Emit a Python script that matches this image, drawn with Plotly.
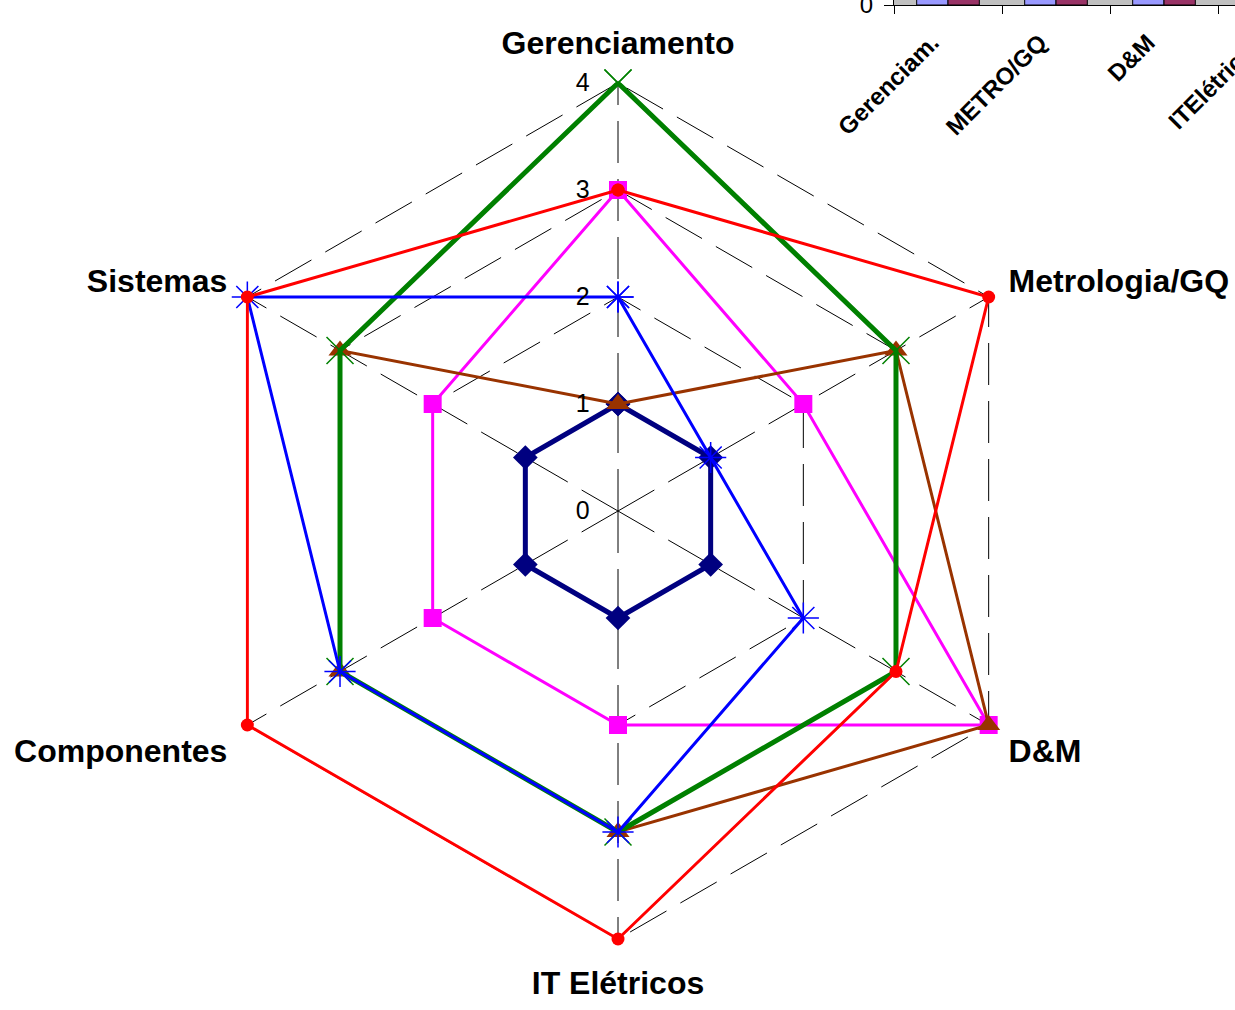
import plotly.graph_objects as go

categories = ["Gerenciamento", "Metrologia/GQ", "D&M", "IT Elétricos", "Componentes", "Sistemas"]

navy_vals = [1, 1, 1, 1, 1, 1]
magenta_vals = [3, 2, 4, 2, 2, 2]
brown_vals = [1, 3, 4, 3, 3, 3]
green_vals = [4, 3, 3, 3, 3, 3]
blue_vals = [2, 1, 2, 3, 3, 4]
red_vals = [3, 4, 3, 4, 4, 4]

radial_ticks = [0, 1, 2, 3, 4]

# partially visible bar chart (top right, clipped by the page edge)
bar_categories = ["Gerenciam.", "METRO/GQ", "D&M", "ITElétricos"]
bar_series_a = [3, 2, 4, 3]
bar_series_b = [4, 3, 3, 4]

series = [
    ("navy", navy_vals, "#000080", 5, "diamond", 19, None),
    ("magenta", magenta_vals, "#FF00FF", 3, "square", 18, None),
    ("brown", brown_vals, "#993300", 3, "triangle-up", 20, None),
    ("green", green_vals, "#008000", 5, "x-thin", 27, "#008000"),
    ("blue", blue_vals, "#0000FF", 3, "asterisk", 26, "#0000FF"),
    ("red", red_vals, "#FF0000", 3, "circle", 13, None),
]

fig = go.Figure()
for name, vals, color, lw, sym, size, mline in series:
    marker = dict(symbol=sym, size=size, color=color)
    if mline:
        marker["line"] = dict(color=mline, width=1.5)
    else:
        marker["line"] = dict(width=0)
    fig.add_trace(go.Scatterpolar(
        r=vals + vals[:1],
        theta=categories + categories[:1],
        mode="lines+markers",
        line=dict(color=color, width=lw),
        marker=marker,
        name=name,
        showlegend=False,
        cliponaxis=False,
    ))

fig.add_trace(go.Bar(x=bar_categories, y=bar_series_a, marker=dict(color="#9999FF", line=dict(color="black", width=1)),
                     xaxis="x", yaxis="y", showlegend=False))
fig.add_trace(go.Bar(x=bar_categories, y=bar_series_b, marker=dict(color="#993366", line=dict(color="black", width=1)),
                     xaxis="x", yaxis="y", showlegend=False))

RMAX = 4.02
R4 = 428
R = R4 * RMAX / 4
cx, cy = 618, 511
W, H = 1235, 1010
bar_x0 = 894
cat_w = 108
grid_dash = "42px,16px"

fig.update_layout(
    width=W, height=H,
    margin=dict(l=0, r=0, t=0, b=0, autoexpand=False),
    paper_bgcolor="white",
    plot_bgcolor="#C0C0C0",
    font=dict(family="Liberation Sans, Arial, sans-serif", color="black"),
    barmode="group",
    bargap=0.42,
    bargroupgap=0,
    polar=dict(
        domain=dict(x=[(cx - R) / W, (cx + R) / W], y=[(H - cy - R) / H, (H - cy + R) / H]),
        bgcolor="white",
        gridshape="linear",
        radialaxis=dict(
            range=[0, RMAX], tickvals=radial_ticks, angle=90, tickangle=90,
            side="counterclockwise", showline=False,
            ticks="outside", ticklen=19, tickcolor="rgba(0,0,0,0)",
            tickfont=dict(size=25, color="black"),
            gridcolor="black", gridwidth=1, griddash=grid_dash,
        ),
        angularaxis=dict(
            direction="clockwise", rotation=90,
            showline=False, ticks="outside", ticklen=14, tickcolor="rgba(0,0,0,0)",
            tickfont=dict(size=32, color="black", family="Liberation Sans, Arial, sans-serif", weight="bold"),
            gridcolor="black", gridwidth=1, griddash=grid_dash,
        ),
    ),
    xaxis=dict(
        domain=[bar_x0 / W, 1.0], range=[-0.5, (W - bar_x0) / cat_w - 0.5], type="category", automargin=False,
        showline=True, linecolor="black", linewidth=1,
        ticks="outside", ticklen=8, tickcolor="black", tickson="boundaries",
        tickangle=-45, tickfont=dict(size=24, weight="bold"),
        ticklabelshift=-16, ticklabelstandoff=13,
        showgrid=False, zeroline=False,
    ),
    yaxis=dict(
        domain=[(H - 5) / H, 1.0], range=[0, 0.05], tickvals=[0], automargin=False,
        showline=True, linecolor="black", linewidth=1,
        ticks="outside", ticklen=9, tickcolor="black", ticklabeloverflow="allow",
        ticklabelstandoff=6,
        tickfont=dict(size=24), showgrid=False, zeroline=False,
    ),
    annotations=[dict(
        text="<b>" + bar_categories[3] + "</b>", xref="paper", yref="paper",
        x=1216 / W, y=1 - 82 / H, xanchor="center", yanchor="middle",
        textangle=-45, showarrow=False, font=dict(size=24),
    )],
)

fig.write_html(
    "out.html",
    config={"displayModeBar": False, "staticPlot": True},
    post_script="document.body.style.margin='0';document.body.style.padding='0';",
)
